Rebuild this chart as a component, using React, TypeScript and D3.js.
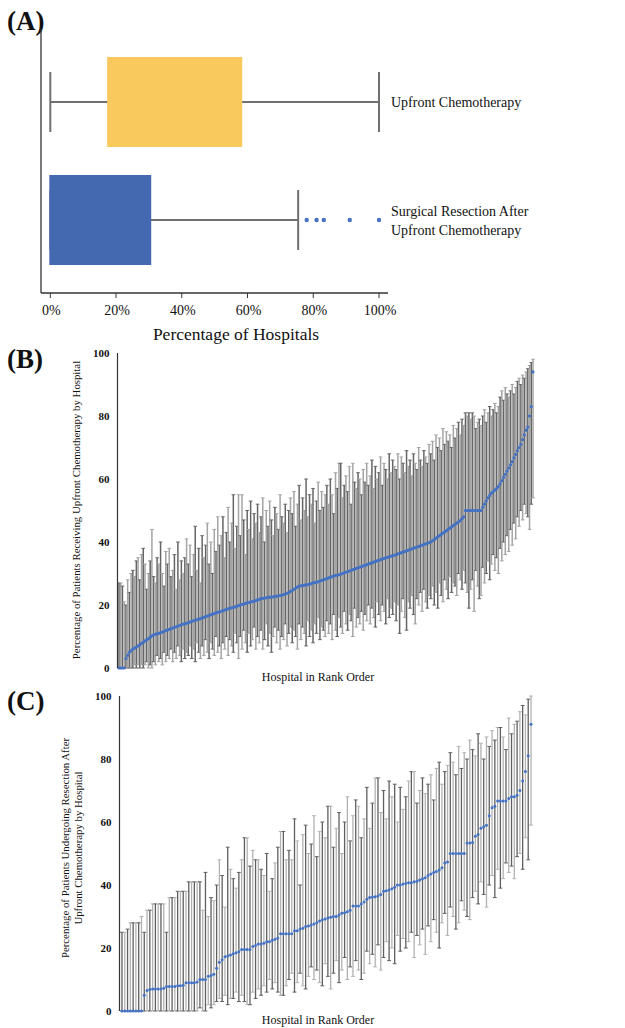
import React from 'react';
import * as d3 from 'd3';

// ---------- Panel A data ----------
const boxCategories = ['Upfront Chemotherapy', 'Surgical Resection After Upfront Chemotherapy'];
const boxLabelLines = [['Upfront Chemotherapy'], ['Surgical Resection After', 'Upfront Chemotherapy']];
const boxWhiskerLow = [0, 0];
const boxQ1 = [17.3, -0.3];
const boxQ3 = [58.4, 30.7];
const boxWhiskerHigh = [100, 75.4];
const boxOutliers = [[], [78, 81, 83.2, 91.1, 100]];
const boxColors = ['#F9C95D', '#4469B0'];
const pctTicks = [0, 20, 40, 60, 80, 100];

// ---------- Panel B data (hospital rank order) ----------
const chemoRate = [
  0, 0, 0, 0, 3, 4, 5, 5.5, 6, 6.3, 6.6, 7, 7.3, 7.8, 8.2, 8.6, 9, 9.3, 9.8, 10.2,
  10.5, 10.7, 10.9, 11, 11.2, 11.4, 11.6, 11.9, 12.1, 12.3, 12.5, 12.7, 12.9, 13.1, 13.3, 13.5, 13.7, 13.9, 14, 14.2,
  14.4, 14.6, 14.8, 15, 15.2, 15.3, 15.5, 15.7, 15.9, 16.1, 16.3, 16.5, 16.7, 16.9, 17.1, 17.3, 17.5, 17.7, 17.8, 18,
  18.2, 18.4, 18.6, 18.8, 19, 19.1, 19.2, 19.4, 19.6, 19.8, 20, 20.2, 20.3, 20.5, 20.7, 20.8, 21, 21.1, 21.2, 21.4,
  21.6, 21.8, 22, 22.1, 22.2, 22.3, 22.4, 22.5, 22.5, 22.6, 22.7, 22.8, 22.9, 23, 23.1, 23.3, 23.5, 23.7, 24, 24.3,
  24.6, 25, 25.4, 25.7, 26, 26.1, 26.2, 26.3, 26.4, 26.5, 26.6, 26.8, 27, 27.1, 27.2, 27.4, 27.6, 27.8, 28, 28.2,
  28.4, 28.6, 28.8, 29, 29.2, 29.4, 29.5, 29.6, 29.8, 30, 30.2, 30.4, 30.6, 30.8, 31, 31.2, 31.4, 31.6, 31.8, 32,
  32.2, 32.4, 32.6, 32.8, 33, 33.2, 33.4, 33.6, 33.8, 34, 34.2, 34.4, 34.6, 34.8, 35, 35.1, 35.3, 35.5, 35.6, 35.8,
  36, 36.2, 36.4, 36.6, 36.8, 37, 37.2, 37.4, 37.6, 37.8, 38, 38.2, 38.4, 38.6, 38.8, 39, 39.2, 39.4, 39.6, 39.8,
  40, 40.4, 40.8, 41.2, 41.6, 42, 42.4, 42.8, 43.2, 43.6, 44, 44.4, 44.8, 45.2, 45.6, 46, 46.4, 46.8, 47.4, 48,
  50, 50, 50, 50, 50, 50, 50, 50, 50, 50, 51, 52, 53, 54, 54.8, 55.5, 56, 56.5, 57, 57.6,
  58.5, 59.5, 60.5, 61.5, 62.5, 63.5, 64.5, 65.5, 66.7, 67.8, 69, 70, 71, 72.5, 74, 75.5, 76.5, 80, 83, 94,
];
const chemoUpper = [
  27, 27, 26, 21, 20, 28, 24, 30, 31, 29, 34, 35, 28, 36, 38, 33, 25, 30, 34, 44,
  29, 27, 35, 33, 40, 30, 26, 37, 33, 38, 29, 31, 36, 25, 40, 28, 34, 30, 35, 41,
  33, 39, 29, 36, 45, 31, 38, 27, 42, 35, 39, 46, 33, 40, 30, 44, 37, 48, 39, 42,
  48, 35, 43, 51, 40, 46, 55, 38, 45, 55, 42, 55, 47, 36, 50, 44, 53, 41, 49, 46,
  52, 43, 48, 54, 40, 50, 45, 53, 47, 42, 51, 49, 44, 55, 48, 46, 52, 43, 50, 54,
  49, 56, 45, 52, 58, 47, 54, 50, 60, 48, 55, 52, 57, 46, 53, 59, 50, 56, 51, 55,
  58, 52, 60, 55, 49, 62, 57, 65, 65, 54, 58, 61, 56, 64, 52, 65, 59, 57, 62, 60,
  55, 63, 59, 65, 58, 61, 66, 57, 64, 60, 62, 67, 58, 65, 63, 60, 68, 62, 66, 64,
  63, 68, 60, 67, 65, 62, 69, 64, 66, 61, 68, 65, 63, 70, 66, 64, 69, 67, 65, 71,
  68, 72, 66, 74, 70, 73, 69, 76, 71, 75, 72, 74, 70, 77, 73, 76, 78, 74, 79, 77,
  81, 80, 81, 79, 81, 80, 76, 78, 79, 77, 80, 82, 78, 81, 83, 80, 82, 84, 81, 83,
  86, 88, 85, 89, 87, 86, 88, 90, 87, 89, 91, 92, 90, 93, 92, 94, 95, 96, 97, 98,
];
const chemoLower = [
  0, 0, 0, 0, 0, 0, 0, 0, 0, 1, 0, 1, 0, 1, 0, 1, 2, 0, 1, 0,
  2, 1, 4, 2, 3, 1, 5, 2, 4, 3, 6, 2, 5, 3, 7, 4, 2, 6, 3, 5,
  4, 7, 3, 6, 2, 8, 5, 3, 7, 4, 9, 5, 3, 8, 6, 4, 10, 5, 7, 3,
  8, 6, 10, 4, 9, 7, 5, 11, 8, 3, 10, 6, 12, 8, 5, 11, 7, 9, 13, 6,
  10, 8, 12, 6, 9, 14, 7, 11, 5, 10, 13, 8, 12, 6, 10, 9, 14, 7, 11, 13,
  8, 12, 10, 6, 14, 9, 13, 11, 7, 15, 10, 12, 8, 14, 11, 16, 9, 13, 12, 10,
  15, 11, 14, 9, 17, 12, 10, 16, 13, 11, 18, 14, 12, 17, 15, 10, 19, 13, 16, 14,
  18, 12, 17, 15, 20, 14, 19, 16, 13, 21, 17, 15, 20, 18, 14, 22, 16, 19, 17, 21,
  15, 20, 11, 18, 22, 16, 12, 21, 19, 23, 17, 14, 22, 20, 24, 18, 25, 21, 19, 23,
  22, 26, 20, 24, 19, 27, 23, 21, 28, 25, 22, 29, 24, 27, 26, 23, 30, 28, 25, 31,
  27, 24, 19, 25, 28, 18, 31, 26, 22, 23, 32, 27, 30, 34, 28, 33, 36, 31, 35, 30,
  38, 34, 40, 36, 42, 37, 44, 39, 46, 41, 48, 45, 50, 47, 52, 49, 48, 44, 52, 54,
];

// ---------- Panel C data (hospital rank order) ----------
const resectRate = [
  0, 0, 0, 0, 0, 0, 0, 0, 5, 6.5,
  6.8, 7, 7, 7, 7, 7.2, 7.8, 7.8, 7.8, 7.8,
  8, 8, 8.2, 9, 9, 9, 9, 9.2, 10, 10,
  10, 11, 11.3, 11.7, 13.6, 15.5, 16.3, 17.2, 17.5, 17.8,
  18.2, 18.5, 18.8, 19.5, 19.5, 19.5, 19.5, 20.5, 20.8, 21.3,
  21.3, 21.5, 22, 22, 22.5, 22.8, 23.2, 24.5, 24.5, 24.5,
  24.5, 24.5, 25.5, 25.5, 26, 26.3, 26.8, 27, 27.3, 27.6,
  28, 28.6, 29, 29.2, 29.5, 29.8, 30, 30, 30.5, 31,
  31.2, 31.5, 32, 33.3, 33.3, 33.3, 34, 34.6, 35.5, 36,
  36.2, 36.3, 36.5, 37, 38, 38.2, 38.4, 38.8, 39.3, 40,
  40, 40.3, 40.5, 40.7, 40.7, 41, 41.2, 41.6, 42, 42.3,
  43, 43.5, 44, 44.3, 44.8, 45.5, 47, 47.3, 50, 50,
  50, 50, 50, 50, 53.3, 53.3, 53.5, 55.5, 56, 58,
  58.5, 59, 62, 64.5, 65, 66.7, 66.7, 66.7, 66.7, 67.5,
  68, 68, 68.5, 70, 73, 76, 81, 91,
];
const resectUpper = [
  25, 25, 26, 28, 28, 28, 28, 30, 25, 32,
  32, 34, 34, 34, 34, 34, 25, 36, 36, 36,
  38, 38, 38, 38, 41, 41, 41, 41, 41, 32,
  44, 30, 36, 35, 40, 48, 43, 33, 52, 45,
  42, 39, 44, 48, 55, 55, 46, 51, 48, 48,
  45, 43, 50, 38, 42, 47, 52, 57, 57, 48,
  51, 48, 61, 54, 40, 56, 59, 50, 53, 62,
  49, 57, 60, 55, 65, 65, 52, 58, 63, 50,
  60, 68, 54, 62, 67, 65, 55, 61, 71, 58,
  66, 74, 74, 63, 70, 61, 73, 68, 72, 60,
  71, 64, 68, 73, 76, 76, 66, 70, 74, 69,
  72, 75, 67, 77, 79, 72, 76, 78, 82, 79,
  75, 84, 77, 82, 80, 86, 83, 81, 88, 85,
  80, 87, 84, 89, 86, 90, 90, 87, 83, 93,
  88, 91, 92, 95, 97, 94, 99, 100,
];
const resectLower = [
  0, 0, 0, 0, 0, 0, 0, 0, 0, 0,
  0, 0, 0, 0, 0, 0, 0, 0, 0, 0,
  0, 0, 0, 0, 0, 0, 0, 0, 1, 0,
  0, 2, 1, 2, 3, 4, 3, 5, 2, 4,
  4, 6, 3, 5, 3, 2, 2, 6, 4, 7,
  5, 8, 6, 10, 7, 9, 6, 5, 5, 8,
  10, 12, 6, 9, 12, 8, 7, 11, 14, 10,
  13, 9, 8, 15, 11, 7, 12, 16, 9, 13,
  17, 10, 14, 11, 16, 13, 10, 12, 19, 15,
  18, 14, 21, 13, 17, 22, 16, 20, 15, 24,
  19, 23, 20, 22, 25, 17, 24, 21, 26, 18,
  27, 22, 29, 25, 20, 28, 31, 24, 33, 30,
  26, 28, 35, 32, 30, 29, 36, 38, 34, 41,
  37, 33, 40, 43, 36, 45, 39, 42, 47, 44,
  46, 42, 49, 50, 45, 55, 48, 59,
];

const rateTicks = [0, 20, 40, 60, 80, 100];

const SERIF = '"Liberation Serif", "Times New Roman", Times, serif';
const DOT = '#4472C4';

type RankProps = {
  values: number[];
  lower: number[];
  upper: number[];
  yTop: number;
  yBottom: number;
  axisX: number;
  xStart: number;
  xEnd: number;
  capHalf: number;
  dotR: number;
  barWidth: number;
  dark: string;
  light: string;
};

function RankPanel({ values, lower, upper, yTop, yBottom, axisX, xStart, xEnd, capHalf, dotR, barWidth, dark, light }: RankProps) {
  const y = d3.scaleLinear().domain([0, 100]).range([yBottom, yTop]);
  const x = d3.scalePoint<number>().domain(d3.range(values.length)).range([xStart, xEnd]);
  return (
    <g>
      {values.map((v, i) => {
        const cx = x(i) as number;
        const col = i % 2 === 0 ? dark : light;
        return (
          <g key={i} stroke={col} strokeWidth={barWidth}>
            <line x1={cx} x2={cx} y1={y(upper[i])} y2={y(lower[i])} />
            <line x1={cx - capHalf} x2={cx + capHalf} y1={y(upper[i])} y2={y(upper[i])} strokeWidth={1} />
            <line x1={cx - capHalf} x2={cx + capHalf} y1={y(lower[i])} y2={y(lower[i])} strokeWidth={1} />
          </g>
        );
      })}
      {values.map((v, i) => (
        <circle key={'d' + i} cx={x(i) as number} cy={y(v)} r={dotR} fill={DOT} />
      ))}
      <line x1={axisX} x2={axisX} y1={yTop} y2={yBottom} stroke="#333" strokeWidth={1.2} />
      {rateTicks.map((t) => (
        <text
          key={t}
          x={axisX - 8}
          y={y(t)}
          dy="0.35em"
          textAnchor="end"
          fontFamily={SERIF}
          fontWeight="bold"
          fontSize={11}
          fill="#111"
        >
          {t}
        </text>
      ))}
    </g>
  );
}

export default function App() {
  const W = 625;
  const H = 1028;

  // Panel A scales
  const xA = d3.scaleLinear().domain([0, 100]).range([50.3, 379]);
  const yA = d3.scalePoint<string>().domain(boxCategories).range([102, 220]);
  const boxH = 90;
  const capH = 60;

  return (
    <svg width={W} height={H} style={{ position: 'absolute', left: 0, top: 0, background: '#fff' }}>
      <rect x={0} y={0} width={W} height={H} fill="#fff" />
      {/* Panel labels */}
      <text x={7} y={30} fontFamily={SERIF} fontWeight="bold" fontSize={27} fill="#111">(A)</text>
      <text x={7} y={368} fontFamily={SERIF} fontWeight="bold" fontSize={27} fill="#111">(B)</text>
      <text x={7} y={710} fontFamily={SERIF} fontWeight="bold" fontSize={27} fill="#111">(C)</text>

      {/* ---------- Panel A ---------- */}
      <g>
        {boxCategories.map((c, i) => {
          const cy = yA(c) as number;
          return (
            <g key={c}>
              <line x1={xA(boxWhiskerLow[i])} x2={xA(boxWhiskerHigh[i])} y1={cy} y2={cy} stroke="#707070" strokeWidth={2} />
              <line x1={xA(boxWhiskerLow[i])} x2={xA(boxWhiskerLow[i])} y1={cy - capH / 2} y2={cy + capH / 2} stroke="#707070" strokeWidth={2} />
              <line x1={xA(boxWhiskerHigh[i])} x2={xA(boxWhiskerHigh[i])} y1={cy - capH / 2} y2={cy + capH / 2} stroke="#707070" strokeWidth={2} />
              <rect x={xA(boxQ1[i])} y={cy - boxH / 2} width={xA(boxQ3[i]) - xA(boxQ1[i])} height={boxH} fill={boxColors[i]} />
              {boxOutliers[i].map((o, j) => (
                <circle key={j} cx={xA(o)} cy={cy} r={2.2} fill={DOT} />
              ))}
              {boxLabelLines[i].map((ln, j) => (
                <text
                  key={j}
                  x={391}
                  y={cy + 5 - (boxLabelLines[i].length - 1) * 9.5 + j * 19}
                  fontFamily={SERIF}
                  fontSize={14}
                  fill="#111"
                >
                  {ln}
                </text>
              ))}
            </g>
          );
        })}
        <line x1={41} x2={41} y1={29} y2={293} stroke="#333" strokeWidth={1.3} />
        <line x1={41} x2={388} y1={293} y2={293} stroke="#333" strokeWidth={1.3} />
        {pctTicks.map((t) => (
          <g key={t}>
            <line x1={xA(t)} x2={xA(t)} y1={293} y2={298} stroke="#333" strokeWidth={1} />
            <text x={xA(t) + 1} y={315} textAnchor="middle" fontFamily={SERIF} fontSize={14} fill="#111">
              {t + '%'}
            </text>
          </g>
        ))}
        <text x={236} y={340} textAnchor="middle" fontFamily={SERIF} fontSize={17.5} fill="#111">
          Percentage of Hospitals
        </text>
      </g>

      {/* ---------- Panel B ---------- */}
      <RankPanel
        values={chemoRate}
        lower={chemoLower}
        upper={chemoUpper}
        yTop={353}
        yBottom={668}
        axisX={117.5}
        xStart={119}
        xEnd={533}
        capHalf={1.8}
        dotR={1.6}
        barWidth={1.5}
        dark="#656565"
        light="#a4a4a4"
      />
      <text
        transform="translate(80,510) rotate(-90)"
        textAnchor="middle"
        fontFamily={SERIF}
        fontSize={10.8}
        fill="#111"
      >
        Percentage of Patients Receiving Upfront Chemotherapy by Hospital
      </text>
      <text x={318} y={681} textAnchor="middle" fontFamily={SERIF} fontSize={12} fill="#111">
        Hospital in Rank Order
      </text>

      {/* ---------- Panel C ---------- */}
      <RankPanel
        values={resectRate}
        lower={resectLower}
        upper={resectUpper}
        yTop={696}
        yBottom={1011}
        axisX={119.5}
        xStart={122}
        xEnd={531}
        capHalf={1.9}
        dotR={1.5}
        barWidth={1.3}
        dark="#5f5f5f"
        light="#b2b2b2"
      />
      <text
        transform="translate(69,848) rotate(-90)"
        textAnchor="middle"
        fontFamily={SERIF}
        fontSize={10.8}
        fill="#111"
      >
        Percentage of Patients Undergoing Resection After
      </text>
      <text
        transform="translate(82,848) rotate(-90)"
        textAnchor="middle"
        fontFamily={SERIF}
        fontSize={10.8}
        fill="#111"
      >
        Upfront Chemotherapy by Hospital
      </text>
      <text x={318} y={1024} textAnchor="middle" fontFamily={SERIF} fontSize={12} fill="#111">
        Hospital in Rank Order
      </text>
    </svg>
  );
}
